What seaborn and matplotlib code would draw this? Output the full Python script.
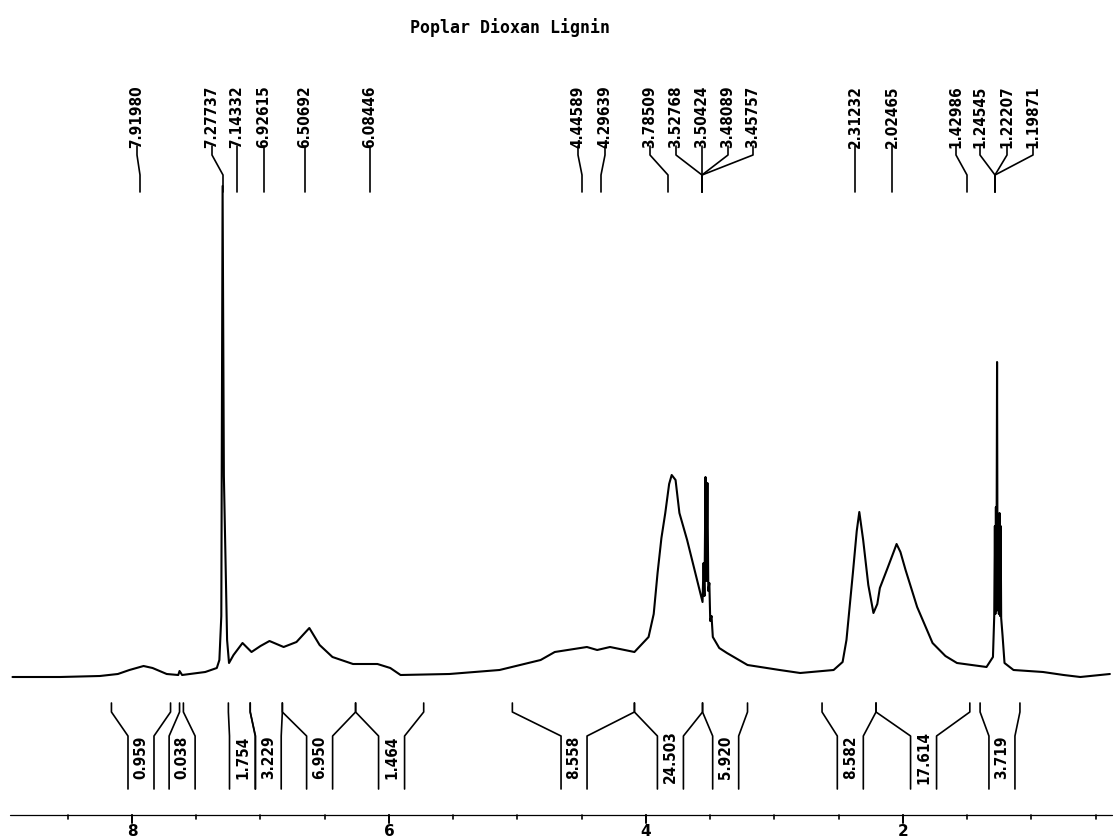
import numpy as np
import seaborn as sns
import matplotlib.pyplot as plt

# spectrum trace: chemical shift (ppm) and intensity (arb.)
trace_ppm = [8.93, 8.56, 8.25, 8.11, 8.02, 7.91, 7.84, 7.73, 7.64, 7.63, 7.61,
             7.43, 7.34, 7.32, 7.305, 7.295, 7.285, 7.26, 7.245, 7.21, 7.14,
             7.07, 7.00, 6.93, 6.82, 6.72, 6.62, 6.54, 6.44, 6.28, 6.09, 5.99,
             5.91, 5.53, 5.14, 4.82, 4.71, 4.46, 4.38, 4.28, 4.09, 3.98, 3.94,
             3.91, 3.88, 3.85, 3.82, 3.80, 3.77, 3.74, 3.68, 3.62, 3.56, 3.552,
             3.545, 3.537, 3.53, 3.522, 3.515, 3.507, 3.50, 3.49, 3.48, 3.43,
             3.37, 3.21, 2.96, 2.80, 2.54, 2.47, 2.44, 2.39, 2.36, 2.34, 2.31,
             2.27, 2.23, 2.20, 2.18, 2.12, 2.07, 2.05, 2.02, 1.98, 1.89, 1.77,
             1.67, 1.58, 1.35, 1.30, 1.29, 1.285, 1.281, 1.277, 1.273, 1.268,
             1.264, 1.259, 1.254, 1.249, 1.245, 1.240, 1.236, 1.225, 1.21,
             1.14, 0.91, 0.75, 0.62, 0.39]
trace_int = [-1, -1, 0, 2, 6, 10, 8, 2, 1, 5, 1,
             4, 8, 16, 60, 490, 200, 36, 13, 21, 33,
             24, 30, 35, 29, 34, 48, 31, 19, 12, 12, 8,
             1, 2, 6, 16, 24, 29, 26, 29, 24, 39, 62,
             103, 138, 163, 192, 201, 196, 163, 136, 105, 74, 113,
             80, 199, 95, 193, 85, 93, 55, 60, 39, 28,
             23, 11, 6, 3, 6, 14, 36, 103, 145, 164, 136,
             91, 63, 72, 88, 108, 125, 132, 124, 106, 69, 33,
             20, 13, 9, 19, 60, 150, 62, 169, 65, 314,
             70, 160, 62, 163, 60, 150, 58, 40, 13,
             6, 4, 1, -1, 2]

# peak picking labels
peak_labels = ["7.91980", "7.27737", "7.14332", "6.92615", "6.50692", "6.08446",
               "4.44589", "4.29639", "3.78509", "3.52768", "3.50424", "3.48089",
               "3.45757", "2.31232", "2.02465", "1.42986", "1.24545", "1.22207",
               "1.19871"]
# where the label text sits and where its leader line ends (picture pixels)
label_text_px = [137, 212, 237, 264, 305, 370, 578, 605, 650, 676, 702, 728,
                 753, 855, 892, 956, 980, 1007, 1033]
label_end_px = [140, 223, 237, 264, 305, 370, 582, 601, 668, 702, 702, 702,
                702, 855, 892, 967, 995, 995, 995]

# integral regions (ppm) and their values
int_left = [8.16, 7.63, 7.25, 7.08, 6.83, 6.26, 5.04, 4.09, 3.56, 2.63, 2.21, 1.40]
int_right = [7.70, 7.60, 7.08, 6.83, 6.26, 5.73, 4.09, 3.56, 3.21, 2.21, 1.48, 1.09]
int_center = [7.93, 7.61, 7.14, 6.94, 6.54, 5.98, 4.56, 3.81, 3.38, 2.41, 1.84, 1.23]
int_values = ["0.959", "0.038", "1.754", "3.229", "6.950", "1.464", "8.558",
              "24.503", "5.920", "8.582", "17.614", "3.719"]

axis_ticks = np.arange(8.5, 0.4, -0.5)
axis_labels = [8, 6, 4, 2]


def px2ppm(x):
    return 6 + (389 - x) / 128.5


def py(y):
    return 676 - y


sns.set_style("white")

fig = plt.figure(figsize=(11.15, 8.39), dpi=100)
ax = fig.add_axes([0, 0, 1, 1])
ax.set_xlim(px2ppm(0), px2ppm(1115))
ax.set_ylim(py(839), py(0))
ax.axis("off")

sns.lineplot(x=trace_ppm, y=trace_int, sort=False, estimator=None,
             color="black", lw=1.5, ax=ax)

ax.text(px2ppm(510), py(28), "Poplar Dioxan Lignin", family="DejaVu Sans Mono",
        fontsize=12, fontweight="bold", ha="center", va="center", color="black")

lab_style = dict(rotation=90, ha="center", family="DejaVu Sans",
                 fontstretch="condensed", fontweight="bold", fontsize=11,
                 color="black")

# peak labels with leader lines
for lab, xt, xe in zip(peak_labels, label_text_px, label_end_px):
    ax.text(px2ppm(xt), py(148), lab, va="bottom", **lab_style)
    ax.plot([px2ppm(xt), px2ppm(xt), px2ppm(xe), px2ppm(xe)],
            [py(146), py(155), py(175), py(192)], color="black", lw=1.2)

# integral brackets
half = 13 / 128.5
for l, r, c, v in zip(int_left, int_right, int_center, int_values):
    ax.plot([l, l, c + half, c + half], [py(703), py(712), py(736), py(789)],
            color="black", lw=1.2)
    ax.plot([r, r, c - half, c - half], [py(703), py(712), py(736), py(789)],
            color="black", lw=1.2)
    ax.text(c, py(757), v, va="center", **lab_style)

# ppm axis
ax.plot([px2ppm(10), px2ppm(1112)], [py(815), py(815)], color="black", lw=0.9)
for t in axis_ticks:
    ax.plot([t, t], [py(815), py(819)], color="black", lw=1.2)
for t in axis_labels:
    ax.plot([t, t], [py(815), py(823)], color="black", lw=1.4)
    ax.text(t, py(824), str(t), ha="center", va="top", fontsize=11,
            fontweight="bold", color="black")

fig.savefig("out.png", dpi=100)
